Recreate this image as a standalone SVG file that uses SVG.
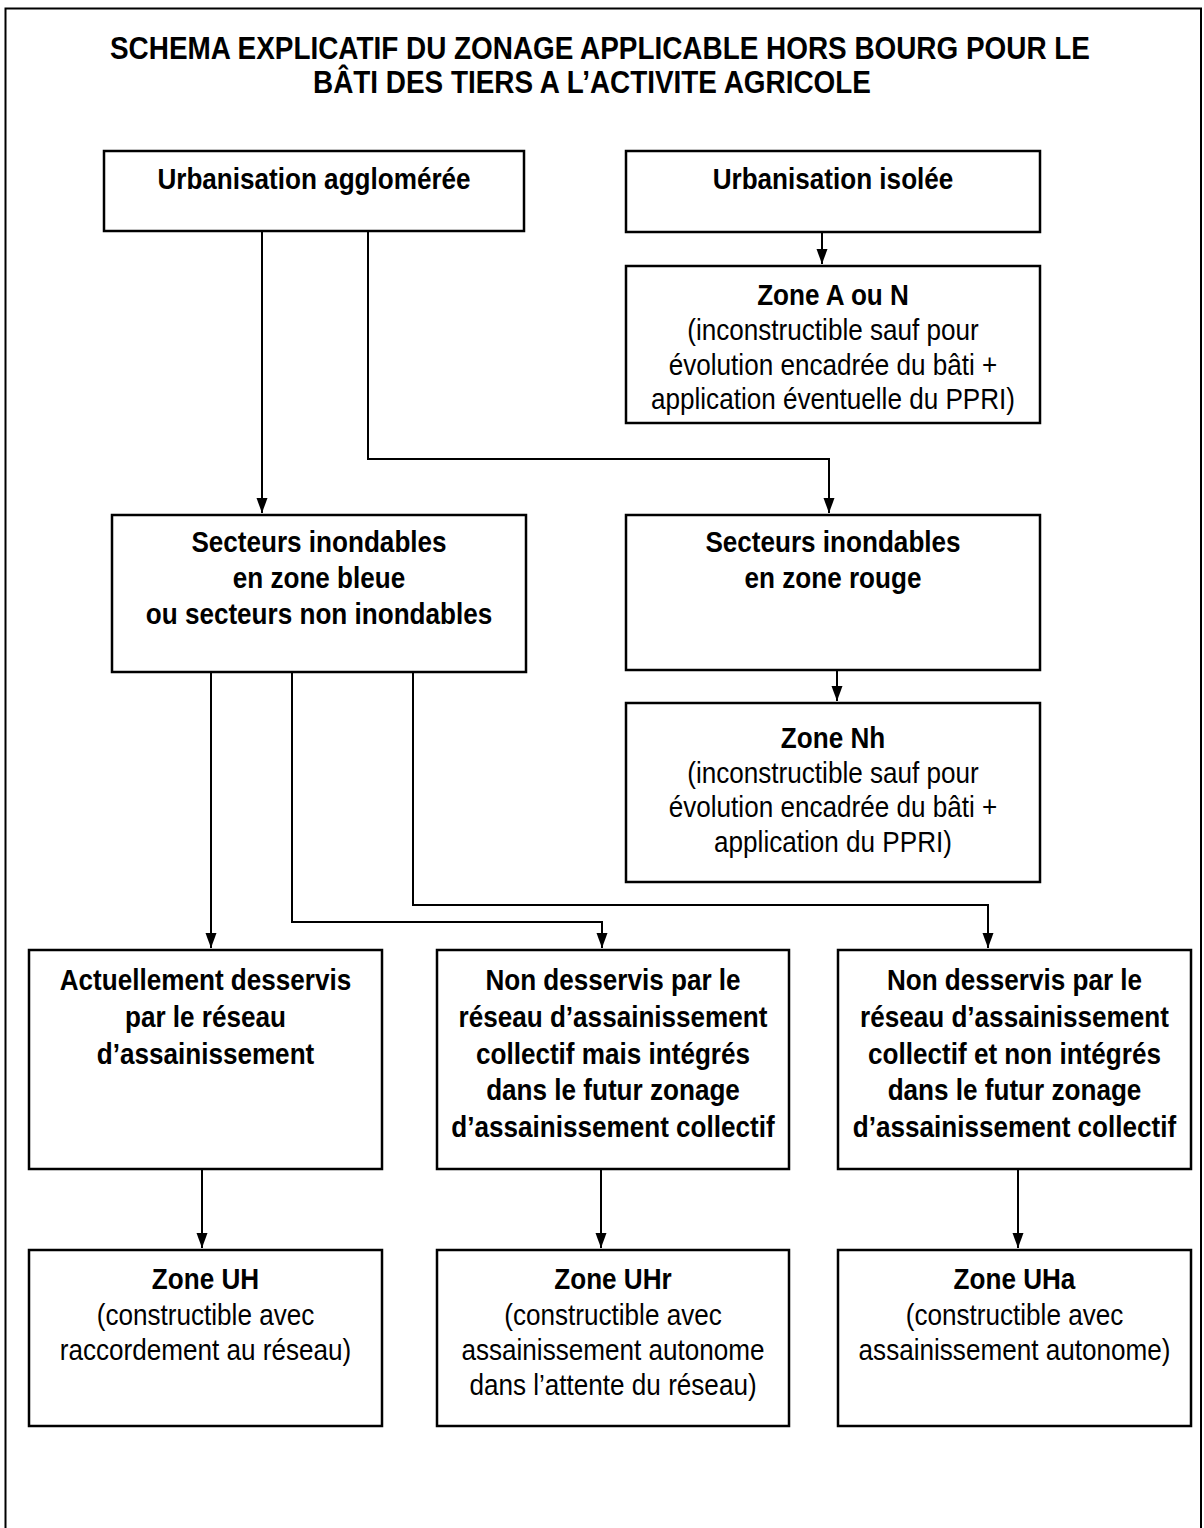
<svg xmlns="http://www.w3.org/2000/svg" width="1204" height="1528" viewBox="0 0 1204 1528">
<style>
  .box{fill:#fff;stroke:#000;stroke-width:2.5}
  .con{fill:none;stroke:#000;stroke-width:2}
  text{font-family:"Liberation Sans",Arial,sans-serif;font-size:29px;fill:#000;text-anchor:middle}
  .b{font-weight:bold}
  .t{font-weight:bold;font-size:31px;text-anchor:start}
</style>
<defs>
  <marker id="ah" markerUnits="userSpaceOnUse" markerWidth="16" markerHeight="12" refX="15" refY="5.5" orient="auto">
    <path d="M0,0 L15,5.5 L0,11 Z" fill="#000"/>
  </marker>
</defs>
<rect width="1204" height="1528" fill="#fff"/>
<path d="M5.5,1530 V8.5 H1201 V1530" fill="none" stroke="#000" stroke-width="2"/>
<g id="title">
  <text class="t" transform="translate(110,59) scale(0.9,1)">SCHEMA EXPLICATIF DU ZONAGE APPLICABLE HORS BOURG POUR LE</text>
  <text class="t" transform="translate(313,93) scale(0.9,1)">BÂTI DES TIERS A L’ACTIVITE AGRICOLE</text>
</g>
<g id="connectors">
  <path class="con" d="M262,232 V513" marker-end="url(#ah)"/>
  <path class="con" d="M368,232 V459 H829 V513" marker-end="url(#ah)"/>
  <path class="con" d="M822,233 V264" marker-end="url(#ah)"/>
  <path class="con" d="M837,671 V701" marker-end="url(#ah)"/>
  <path class="con" d="M211,673 V948" marker-end="url(#ah)"/>
  <path class="con" d="M292,673 V922 H602 V948" marker-end="url(#ah)"/>
  <path class="con" d="M413,673 V905 H988 V948" marker-end="url(#ah)"/>
  <path class="con" d="M202,1170 V1248" marker-end="url(#ah)"/>
  <path class="con" d="M601,1170 V1248" marker-end="url(#ah)"/>
  <path class="con" d="M1018,1170 V1248" marker-end="url(#ah)"/>
</g>
<g id="n1">
  <rect class="box" x="104" y="151" width="420" height="80"/>
  <g transform="translate(314,0) scale(0.9,1)"><text class="b" y="189">Urbanisation agglomérée</text></g>
</g>
<g id="n2">
  <rect class="box" x="626" y="151" width="414" height="81"/>
  <g transform="translate(833,0) scale(0.9,1)"><text class="b" y="189">Urbanisation isolée</text></g>
</g>
<g id="n3">
  <rect class="box" x="626" y="266" width="414" height="157"/>
  <g transform="translate(833,0) scale(0.9,1)">
    <text class="b" y="305">Zone A ou N</text>
    <text y="340">(inconstructible sauf pour</text>
    <text y="375">évolution encadrée du bâti +</text>
    <text y="409">application éventuelle du PPRI)</text>
  </g>
</g>
<g id="n4">
  <rect class="box" x="112" y="515" width="414" height="157"/>
  <g transform="translate(319,0) scale(0.9,1)">
    <text class="b" y="552">Secteurs inondables</text>
    <text class="b" y="588">en zone bleue</text>
    <text class="b" y="624">ou secteurs non inondables</text>
  </g>
</g>
<g id="n5">
  <rect class="box" x="626" y="515" width="414" height="155"/>
  <g transform="translate(833,0) scale(0.9,1)">
    <text class="b" y="552">Secteurs inondables</text>
    <text class="b" y="588">en zone rouge</text>
  </g>
</g>
<g id="n6">
  <rect class="box" x="626" y="703" width="414" height="179"/>
  <g transform="translate(833,0) scale(0.9,1)">
    <text class="b" y="748">Zone Nh</text>
    <text y="783">(inconstructible sauf pour</text>
    <text y="817">évolution encadrée du bâti +</text>
    <text y="852">application du PPRI)</text>
  </g>
</g>
<g id="n7">
  <rect class="box" x="29" y="950" width="353" height="219"/>
  <g transform="translate(205.5,0) scale(0.9,1)">
    <text class="b" y="990">Actuellement desservis</text>
    <text class="b" y="1027">par le réseau</text>
    <text class="b" y="1064">d’assainissement</text>
  </g>
</g>
<g id="n8">
  <rect class="box" x="437" y="950" width="352" height="219"/>
  <g transform="translate(613,0) scale(0.9,1)">
    <text class="b" y="990">Non desservis par le</text>
    <text class="b" y="1027">réseau d’assainissement</text>
    <text class="b" y="1064">collectif mais intégrés</text>
    <text class="b" y="1100">dans le futur zonage</text>
    <text class="b" y="1137">d’assainissement collectif</text>
  </g>
</g>
<g id="n9">
  <rect class="box" x="838" y="950" width="353" height="219"/>
  <g transform="translate(1014.5,0) scale(0.9,1)">
    <text class="b" y="990">Non desservis par le</text>
    <text class="b" y="1027">réseau d’assainissement</text>
    <text class="b" y="1064">collectif et non intégrés</text>
    <text class="b" y="1100">dans le futur zonage</text>
    <text class="b" y="1137">d’assainissement collectif</text>
  </g>
</g>
<g id="n10">
  <rect class="box" x="29" y="1250" width="353" height="176"/>
  <g transform="translate(205.5,0) scale(0.9,1)">
    <text class="b" y="1289">Zone UH</text>
    <text y="1325">(constructible avec</text>
    <text y="1360">raccordement au réseau)</text>
  </g>
</g>
<g id="n11">
  <rect class="box" x="437" y="1250" width="352" height="176"/>
  <g transform="translate(613,0) scale(0.9,1)">
    <text class="b" y="1289">Zone UHr</text>
    <text y="1325">(constructible avec</text>
    <text y="1360">assainissement autonome</text>
    <text y="1395">dans l’attente du réseau)</text>
  </g>
</g>
<g id="n12">
  <rect class="box" x="838" y="1250" width="353" height="176"/>
  <g transform="translate(1014.5,0) scale(0.9,1)">
    <text class="b" y="1289">Zone UHa</text>
    <text y="1325">(constructible avec</text>
    <text y="1360">assainissement autonome)</text>
  </g>
</g>
</svg>
